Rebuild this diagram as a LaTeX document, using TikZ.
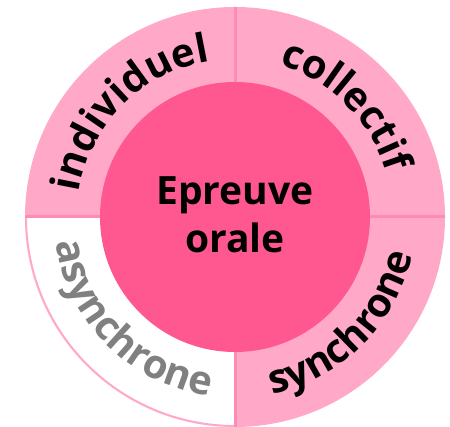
\documentclass[tikz,border=0pt]{standalone}
\usepackage{fontspec}
\setmainfont{Open Sans}
\usetikzlibrary{decorations.text}
\definecolor{ringpink}{RGB}{255,168,200}
\definecolor{linepink}{RGB}{255,138,180}
\definecolor{corepink}{RGB}{255,88,145}
\definecolor{greytext}{RGB}{128,128,128}
\newcommand{\ringfont}{\fontsize{40}{44}\selectfont\bfseries}

\begin{document}
\begin{tikzpicture}[x=1pt,y=1pt,
  ringtext/.style={decorate, decoration={text along path, text align=center, text={#1}}}]

 \useasboundingbox (0,0) rectangle (450,426);

 \begin{scope}[shift={(235,209)}]
  % outer ring
  \fill[ringpink] (0,0) circle (210);
  \fill[white] (0,0) -- (180:210) arc[start angle=180, end angle=270, radius=210] -- cycle;
  \draw[ringpink, line width=2pt] (180:209) arc[start angle=180, end angle=270, radius=209];

  % separations
  \foreach \a in {0,90,180,270}
  {
   \draw[linepink, line width=3pt] (0,0) -- (\a:210);
  }

  % centre
  \fill[corepink] (0,0) circle (135);
  \node[font=\fontsize{39}{48}\selectfont\bfseries, align=center, inner sep=0pt] (centre) at (0,2) {Epreuve\\orale};

  % ring labels
  \path[ringtext={|\ringfont|individuel}] (180:158) arc[start angle=180, end angle=90, radius=158];
  \path[ringtext={|\ringfont|collectif}] (90:158) arc[start angle=90, end angle=0, radius=158];
  \path[ringtext={|\ringfont\color{greytext}|asynchrone}] (180:181) arc[start angle=180, end angle=270, radius=181];
  \path[ringtext={|\ringfont|synchrone}] (270:181) arc[start angle=270, end angle=360, radius=181];
 \end{scope}
\end{tikzpicture}
\end{document}
